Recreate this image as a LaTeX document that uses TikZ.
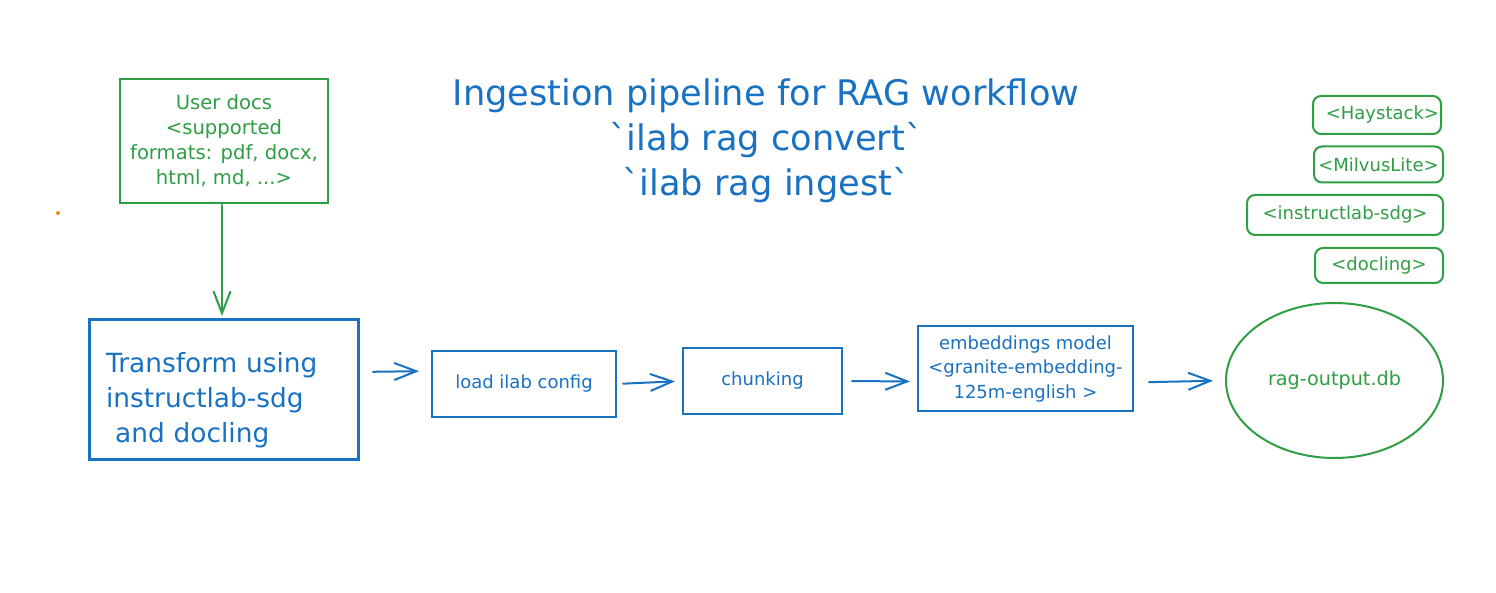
\documentclass[tikz,border=0pt]{standalone}
\usepackage{fontspec}
\setmainfont{DejaVu Sans}
\usetikzlibrary{arrows.meta,shapes.geometric}
\definecolor{eblue}{HTML}{1971C2}
\definecolor{egreen}{HTML}{2F9E44}
\definecolor{eorange}{HTML}{F08C00}
\begin{document}
\begin{tikzpicture}[x=0.5pt,y=-0.5pt,
  every node/.style={inner sep=0pt, outer sep=0pt},
  bluebox/.style={draw=eblue, line width=1pt, text=eblue, align=center, font=\fontsize{9}{12.25}\selectfont},
  greenbox/.style={draw=egreen, line width=1pt, text=egreen, align=center},
  tagbox/.style={greenbox, rounded corners=4pt, font=\fontsize{9}{11}\selectfont},
  arr/.style={-{Straight Barb[length=11pt,width=8.5pt]}, line width=1pt, line cap=round}]
\useasboundingbox (0,0) rectangle (1496,593);
\fill[white] (0,0) rectangle (1496,593);

% title
\node[text=eblue, align=center, font=\fontsize{17.6}{22.5}\selectfont] (title) at (766,141)
  {Ingestion pipeline for RAG workflow\\\textasciigrave ilab rag convert\textasciigrave\\\textasciigrave ilab rag ingest\textasciigrave};

% user docs
\node[greenbox, minimum width=104pt, minimum height=62pt, font=\fontsize{9.8}{12.5}\selectfont] (docs) at (224,141)
  {User docs\\<supported\\formats: pdf, docx,\\html, md, ...>};

% transform box (double stroke)
\node[draw=eblue, line width=1pt, minimum width=134pt, minimum height=69.5pt] (tr) at (224,389.5) {};
\draw[eblue, line width=0.5pt] ([shift={(-0.8pt,0.8pt)}]tr.north west) rectangle ([shift={(0.6pt,-1pt)}]tr.south east);
\node[text=eblue, align=left, text width=120pt, font=\fontsize{13.2}{17.5}\selectfont] (trt) at (226,400)
  {Transform using\\instructlab-sdg\\\hspace{0.35em}and docling};

% pipeline boxes
\node[bluebox, minimum width=92pt, minimum height=33pt] (ld) at (524,384) {load ilab config};
\node[bluebox, minimum width=79.5pt, minimum height=33pt] (ch) at (762.5,381) {chunking};
\node[bluebox, minimum width=107.5pt, minimum height=42.5pt] (emb) at (1025.5,369)
  {embeddings model\\<granite-embedding-\\125m-english >};
\node[greenbox, ellipse, minimum width=108.5pt, minimum height=77.5pt, font=\fontsize{9.6}{12}\selectfont] (db) at (1334.5,380.5) {rag-output.db};

% tags
\node[tagbox, minimum width=64pt, minimum height=19pt, text width=62pt, align=right] (hay) at (1377,115) {<Haystack>};
\node[tagbox, minimum width=64.5pt, minimum height=18pt] (mil) at (1378.5,164.5) {<MilvusLite>};
\node[tagbox, minimum width=98pt, minimum height=20pt] (sdg) at (1345,215) {<instructlab-sdg>};
\node[tagbox, minimum width=64pt, minimum height=17.5pt] (doc) at (1379,265.5) {<docling>};

% stray dot
\fill[eorange] (58,213) circle (1pt);

% connectors
\draw[arr, egreen, shorten <=1pt, shorten >=2pt] ([xshift=-1pt]docs.south) -- ([xshift=-1pt]tr.north);
\draw[arr, eblue, shorten <=7.5pt, shorten >=6.5pt] ([yshift=8.75pt]tr.east) -- ([yshift=6.5pt]ld.west);
\draw[arr, eblue, shorten <=3.5pt, shorten >=4pt] (ld.east) -- (ch.west);
\draw[arr, eblue, shorten <=5pt, shorten >=4pt] (ch.east) -- ([yshift=-6.25pt]emb.west);
\draw[arr, eblue, shorten <=8pt, shorten >=6.5pt] ([yshift=-6.75pt]emb.east) -- (db.west);
\end{tikzpicture}
\end{document}
